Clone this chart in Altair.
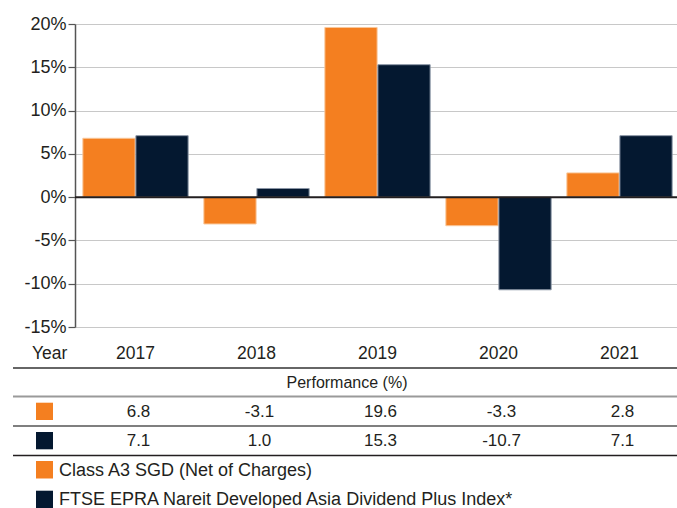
import altair as alt
import pandas as pd

# ---------------- data ----------------
years = ["2017", "2018", "2019", "2020", "2021"]
fund_values = [6.8, -3.1, 19.6, -3.3, 2.8]
index_values = [7.1, 1.0, 15.3, -10.7, 7.1]
series_names = [
    "Class A3 SGD (Net of Charges)",
    "FTSE EPRA Nareit Developed Asia Dividend Plus Index*",
]
y_ticks = [-15, -10, -5, 0, 5, 10, 15, 20]

series_colors = ["#F47F20", "#041830"]
series_strokes = ["#F9C79A", "#8A95A5"]

rows = []
for i, yr in enumerate(years):
    rows.append(dict(year=yr, series=series_names[0], value=fund_values[i],
                     label=f"{fund_values[i]:.1f}", row=0))
    rows.append(dict(year=yr, series=series_names[1], value=index_values[i],
                     label=f"{index_values[i]:.1f}", row=1))
df = pd.DataFrame(rows)
legend_df = pd.DataFrame({"series": series_names, "row": [0, 1]})
one = pd.DataFrame({"k": [0]})

FONT = "Liberation Sans"
TXT = "#231f20"

x_scale = alt.Scale(domain=years, range=[0, 605], paddingInner=0.13, paddingOuter=0.065)
color_scale = alt.Scale(domain=series_names, range=series_colors)
stroke_scale = alt.Scale(domain=series_names, range=series_strokes)

bars = alt.Chart(df).mark_bar(strokeWidth=1).encode(
    x=alt.X("year:N", scale=x_scale, axis=None),
    xOffset=alt.XOffset("series:N", scale=alt.Scale(domain=series_names, paddingInner=0.015)),
    y=alt.Y(
        "value:Q",
        scale=alt.Scale(domain=[-15, 20], nice=False, zero=True),
        axis=alt.Axis(
            values=y_ticks, labelExpr="datum.value + '%'", title=None,
            labelFont=FONT, labelFontSize=18, labelColor=TXT, labelPadding=2,
            domainColor="#555555", domainWidth=1.5,
            tickColor="#555555", tickSize=7, tickWidth=1.2,
            gridColor="#c8c8c8", gridWidth=1.2,
        ),
    ),
    color=alt.Color("series:N", scale=color_scale, legend=None),
    stroke=alt.Stroke("series:N", scale=stroke_scale, legend=None),
)

zero_rule = alt.Chart(pd.DataFrame({"z": [0]})).mark_rule(color=TXT, strokeWidth=2).encode(
    y="z:Q", x=alt.value(0), x2=alt.value(605)
)

# table text
year_text = alt.Chart(df).transform_filter("datum.row == 0").mark_text(
    font=FONT, fontSize=17.5, color=TXT, baseline="middle"
).encode(x=alt.X("year:N", scale=x_scale, axis=None), y=alt.value(330), text="year:N")

year_head = alt.Chart(one).mark_text(
    font=FONT, fontSize=17.5, color=TXT, baseline="middle", align="left", text="Year"
).encode(x=alt.value(-43), y=alt.value(330))

perf_head = alt.Chart(one).mark_text(
    font=FONT, fontSize=16, color=TXT, baseline="middle", align="center", text="Performance (%)"
).encode(x=alt.value(272), y=alt.value(359))

row0_text = alt.Chart(df).transform_filter("datum.row == 0").mark_text(
    font=FONT, fontSize=17, color=TXT, baseline="middle", dx=3
).encode(x=alt.X("year:N", scale=x_scale, axis=None), y=alt.value(387.5), text="label:N")

row1_text = alt.Chart(df).transform_filter("datum.row == 1").mark_text(
    font=FONT, fontSize=17, color=TXT, baseline="middle", dx=3
).encode(x=alt.X("year:N", scale=x_scale, axis=None), y=alt.value(417), text="label:N")

def hline(yv, color, width):
    return alt.Chart(one).mark_rule(color=color, strokeWidth=width).encode(
        x=alt.value(-62), x2=alt.value(605), y=alt.value(yv)
    )

lines = [
    hline(344, "#333333", 1.5),
    hline(372.5, "#9a9a9a", 2),
    hline(402, "#555555", 1.5),
    hline(431.5, "#231f20", 1.5),
]

def square(row, y0, y1):
    return alt.Chart(legend_df).transform_filter(f"datum.row == {row}").mark_rect().encode(
        x=alt.value(-39), x2=alt.value(-22), y=alt.value(y0), y2=alt.value(y1),
        color=alt.Color("series:N", scale=color_scale, legend=None),
    )

squares = [
    square(0, 378.7, 396),
    square(1, 408, 425.3),
    square(0, 437, 454.5),
    square(1, 466.7, 484),
]

def legend_text(row, yv):
    return alt.Chart(legend_df).transform_filter(f"datum.row == {row}").mark_text(
        font=FONT, fontSize=18, color=TXT, baseline="middle", align="left"
    ).encode(x=alt.value(-16), y=alt.value(yv), text="series:N")

legend_texts = [legend_text(0, 446.5), legend_text(1, 475.5)]

chart = alt.layer(
    bars, zero_rule, year_text, year_head, perf_head, row0_text, row1_text,
    *lines, *squares, *legend_texts
).properties(
    width=602, height=303,
    autosize=alt.AutoSizeParams(type="none"),
    padding={"left": 75, "top": 24, "right": 0, "bottom": 181},
).configure_view(stroke=None)

chart.save("out.html", embed_options={"renderer": "svg", "actions": False})
